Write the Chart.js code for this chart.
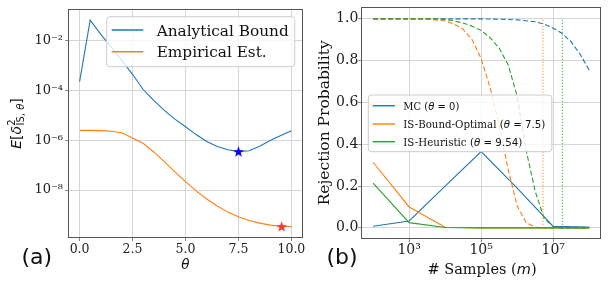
<!DOCTYPE html>
<html lang="en">
<head>
<meta charset="UTF-8">
<script src="https://cdn.jsdelivr.net/npm/chart.js"></script>
<style>
  html, body { margin: 0; padding: 0; background: #fff; }
  #wrap { position: relative; width: 608px; height: 287px; overflow: hidden; }
  canvas { position: absolute; top: 0; }
  #chartA { left: 0; }
  #chartB { left: 310px; }
  svg { position: absolute; left: 0; top: 0; pointer-events: none; }
  .serif { font-family: 'DejaVu Serif', serif; fill: #111; }
  .sans { font-family: 'DejaVu Sans', sans-serif; fill: #111; }
</style>
</head>
<body>
<div id="wrap">
  <canvas id="chartA" width="310" height="287"></canvas>
  <canvas id="chartB" width="298" height="287"></canvas>
  <svg width="608" height="287">
    <!-- panel letters and axis titles -->
    <text class="sans" x="21.4" y="263.5" font-size="22">(a)</text>
    <text class="sans" x="326.4" y="263.5" font-size="22">(b)</text>
    <text class="sans" x="185.5" y="269.3" font-size="13.5" font-style="italic" text-anchor="middle">θ</text>
    <text class="serif" x="482" y="274.3" font-size="14.5" text-anchor="middle"># Samples (<tspan class="sans" font-style="italic">m</tspan>)</text>
    <text class="serif" font-size="15.5" text-anchor="middle" transform="translate(329.3,122.8) rotate(-90)">Rejection Probability</text>
    <text class="sans" font-size="14" text-anchor="middle" transform="translate(20.5,123.5) rotate(-90)"><tspan font-style="italic">E</tspan>[<tspan font-style="italic">δ</tspan><tspan font-size="10" dy="-5.5">2</tspan><tspan font-size="10" dx="-6" dy="9">IS, </tspan><tspan font-size="10" font-style="italic">θ</tspan><tspan dy="-3.5">]</tspan></text>

    <!-- legend (a) -->
    <rect x="106.7" y="16.7" width="188" height="50" rx="3" fill="#fff" fill-opacity="0.8" stroke="#cccccc"/>
    <line x1="111.7" x2="143.3" y1="30" y2="30" stroke="#1f77b4" stroke-width="1.4"/>
    <line x1="111.7" x2="143.3" y1="51.7" y2="51.7" stroke="#ff7f0e" stroke-width="1.4"/>
    <text class="serif" x="156.7" y="35.7" font-size="15.3">Analytical Bound</text>
    <text class="serif" x="156.7" y="57.3" font-size="15.3">Empirical Est.</text>

    <!-- legend (b) -->
    <rect x="368.3" y="95" width="183.5" height="56.7" rx="3" fill="#fff" fill-opacity="0.8" stroke="#cccccc"/>
    <line x1="372.7" x2="395" y1="105.7" y2="105.7" stroke="#1f77b4" stroke-width="1.4"/>
    <line x1="372.7" x2="395" y1="124" y2="124" stroke="#ff7f0e" stroke-width="1.4"/>
    <line x1="372.7" x2="395" y1="141.7" y2="141.7" stroke="#2ca02c" stroke-width="1.4"/>
    <text class="serif" x="403.3" y="109.5" font-size="11.3" textLength="56" lengthAdjust="spacingAndGlyphs">MC (<tspan class="sans" font-style="italic">θ</tspan><tspan class="sans"> = 0</tspan>)</text>
    <text class="serif" x="403.3" y="127.7" font-size="11.3" textLength="142" lengthAdjust="spacingAndGlyphs">IS-Bound-Optimal (<tspan class="sans" font-style="italic">θ</tspan><tspan class="sans"> = 7.5</tspan>)</text>
    <text class="serif" x="403.3" y="145.5" font-size="11.3" textLength="119" lengthAdjust="spacingAndGlyphs">IS-Heuristic (<tspan class="sans" font-style="italic">θ</tspan><tspan class="sans"> = 9.54</tspan>)</text>
  </svg>
</div>

<script>
const C_BLUE = '#1f77b4', C_ORANGE = '#ff7f0e', C_GREEN = '#2ca02c';

// ---- panel (a): second moment vs theta ----
const thetaA = [0, 0.5, 1, 1.5, 2, 2.5, 3, 3.5, 4, 4.5, 5, 5.5, 6, 6.5, 7, 7.5, 8, 8.5, 9, 9.5, 10];
const boundA = [2.3e-4, 6.8e-2, 1.8e-2, 5.6e-3, 1.6e-3, 4.5e-4, 1.1e-4, 4.0e-5, 1.6e-5, 7.1e-6, 3.5e-6,
                1.7e-6, 8.9e-7, 5.6e-7, 4.2e-7, 3.5e-7, 3.8e-7, 5.8e-7, 9.8e-7, 1.55e-6, 2.4e-6];
const empiricalA = [2.5e-6, 2.5e-6, 2.45e-6, 2.3e-6, 2.0e-6, 1.25e-6, 7.6e-7, 3.4e-7, 1.4e-7, 5.4e-8, 2.2e-8,
                    9.3e-9, 4.4e-9, 2.3e-9, 1.3e-9, 8.5e-10, 6.0e-10, 4.7e-10, 3.9e-10, 3.5e-10, 3.4e-10];
const bestBound = [7.5, 3.5e-7];
const bestEmpirical = [9.54, 3.4e-10];
const xTicksA = [0, 2.5, 5, 7.5, 10];
const yTicksA = [1e-8, 1e-6, 1e-4, 1e-2];
const yTickLabelsA = ['10⁻⁸', '10⁻⁶', '10⁻⁴', '10⁻²'];

// ---- panel (b): rejection probability vs number of samples ----
const mSolid = [1e2, 1e3, 1e4, 1e5, 1e6, 1e7, 1e8];
const mcSolid = [0.008, 0.033, 0.20, 0.365, 0.19, 0.007, 0.004];
const boundOptSolid = [0.314, 0.10, 0.003, 0, 0, 0, 0];
const heuristicSolid = [0.214, 0.025, 0.002, 0, 0, 0, 0];

const log10M = [2, 2.25, 2.5, 2.75, 3, 3.25, 3.5, 3.75, 4, 4.25, 4.5, 4.75, 5, 5.25, 5.5, 5.75, 6, 6.25, 6.5, 6.75, 7, 7.25, 7.5, 7.75, 8];
const mcDashed = [1, 1, 1, 1, 1, 1, 1, 1, 1, 1, 1, 1, 1, 0.999, 0.998, 0.997, 0.995, 0.991, 0.986, 0.975, 0.955, 0.93, 0.89, 0.83, 0.755];
const boundOptDashed = [1, 1, 1, 1, 1, 1, 0.998, 0.995, 0.99, 0.975, 0.95, 0.9, 0.81, 0.67, 0.49, 0.28, 0.105, 0.025, 0.003, 0, 0, 0, 0, 0, 0];
const heuristicDashed = [1, 1, 1, 1, 1, 1, 1, 1, 0.997, 0.99, 0.98, 0.965, 0.944, 0.91, 0.86, 0.78, 0.63, 0.37, 0.175, 0.045, 0.005, 0, 0, 0, 0];
const boundOptCutoff = 5.2e6;
const heuristicCutoff = 1.8e7;
const xTicksB = [1e3, 1e5, 1e7];
const xTickLabelsB = ['10³', '10⁵', '10⁷'];
const yTicksB = [0, 0.2, 0.4, 0.6, 0.8, 1.0];

const pts = (xs, ys) => xs.map((x, i) => ({ x: x, y: ys[i] }));
const mDense = log10M.map(e => Math.pow(10, e));

function starImg(color) {
  const c = document.createElement('canvas');
  c.width = c.height = 13;
  const g = c.getContext('2d');
  g.beginPath();
  for (let i = 0; i < 10; i++) {
    const r = i % 2 ? 2.3 : 5.8;
    const a = -Math.PI / 2 + i * Math.PI / 5;
    g.lineTo(6.5 + r * Math.cos(a), 6.9 + r * Math.sin(a));
  }
  g.closePath();
  g.fillStyle = color;
  g.fill();
  return c;
}

// box around the plot area (matplotlib spines)
const frame = {
  id: 'frame',
  afterDatasetsDraw(chart) {
    const { ctx, chartArea: a } = chart;
    ctx.save();
    ctx.strokeStyle = '#555';
    ctx.lineWidth = 1;
    ctx.strokeRect(Math.round(a.left) - 0.5, Math.round(a.top) - 0.5,
                   Math.round(a.right - a.left) + 1, Math.round(a.bottom - a.top) + 1);
    ctx.restore();
  }
};

const gridStyle = { color: '#d6d6d6', lineWidth: 1, tickColor: '#888', tickLength: 4 };
const line = (data, color, dash) => ({
  data: data, showLine: true, borderColor: color, borderWidth: 1.1,
  borderDash: dash || [], pointRadius: 0, fill: false
});

Chart.defaults.font.family = 'DejaVu Serif';
Chart.defaults.color = '#222';

new Chart(document.getElementById('chartA'), {
  type: 'scatter',
  data: {
    datasets: [
      { data: [{ x: bestBound[0], y: bestBound[1] }], pointStyle: starImg('#0000ff'), pointRadius: 6 },
      { data: [{ x: bestEmpirical[0], y: bestEmpirical[1] }], pointStyle: starImg('#f23a2a'), pointRadius: 6 },
      line(pts(thetaA, empiricalA), C_ORANGE),
      line(pts(thetaA, boundA), C_BLUE)
    ]
  },
  options: {
    responsive: false, animation: false, devicePixelRatio: 1,
    layout: { padding: { left: 0, right: 8, top: 9, bottom: 0 } },
    plugins: { legend: { display: false }, tooltip: { enabled: false } },
    scales: {
      x: {
        type: 'linear', min: -0.5, max: 10.5,
        grid: gridStyle, border: { display: false },
        afterBuildTicks: s => { s.ticks = xTicksA.map(v => ({ value: v })); },
        afterFit: s => { s.height = 50; },
        ticks: { font: { size: 12.5 }, padding: 1, maxRotation: 0, callback: v => v.toFixed(1) }
      },
      y: {
        type: 'logarithmic', min: 1.3e-10, max: 0.1758,
        grid: gridStyle, border: { display: false },
        afterBuildTicks: s => { s.ticks = yTicksA.map(v => ({ value: v })); },
        afterFit: s => { s.width = 69; },
        ticks: { font: { size: 13 }, padding: 2, callback: v => yTickLabelsA[yTicksA.indexOf(v)] || '' }
      }
    }
  },
  plugins: [frame]
});

new Chart(document.getElementById('chartB'), {
  type: 'scatter',
  data: {
    datasets: [
      line(pts([heuristicCutoff, heuristicCutoff], [0, 1]), C_GREEN, [1, 2]),
      line(pts(mDense, heuristicDashed), C_GREEN, [5, 2.5]),
      line(pts(mSolid, heuristicSolid), C_GREEN),
      line(pts([boundOptCutoff, boundOptCutoff], [0, 1]), C_ORANGE, [1, 2]),
      line(pts(mDense, boundOptDashed), C_ORANGE, [5, 2.5]),
      line(pts(mSolid, boundOptSolid), C_ORANGE),
      line(pts(mDense, mcDashed), C_BLUE, [5, 2.5]),
      line(pts(mSolid, mcSolid), C_BLUE)
    ]
  },
  options: {
    responsive: false, animation: false, devicePixelRatio: 1,
    layout: { padding: { left: 0, right: 8, top: 7.3, bottom: 0 } },
    plugins: { legend: { display: false }, tooltip: { enabled: false } },
    scales: {
      x: {
        type: 'logarithmic', min: 50.1, max: 1.995e8,
        grid: gridStyle, border: { display: false },
        afterBuildTicks: s => { s.ticks = xTicksB.map(v => ({ value: v })); },
        afterFit: s => { s.height = 48.7; },
        ticks: { font: { size: 14 }, padding: 0, maxRotation: 0, callback: v => xTickLabelsB[xTicksB.indexOf(v)] || '' }
      },
      y: {
        type: 'linear', min: -0.05, max: 1.05,
        grid: gridStyle, border: { display: false },
        afterBuildTicks: s => { s.ticks = yTicksB.map(v => ({ value: v })); },
        afterFit: s => { s.width = 52.3; },
        ticks: { font: { size: 14 }, padding: 0, callback: v => v.toFixed(1) }
      }
    }
  },
  plugins: [frame]
});
</script>
</body>
</html>
